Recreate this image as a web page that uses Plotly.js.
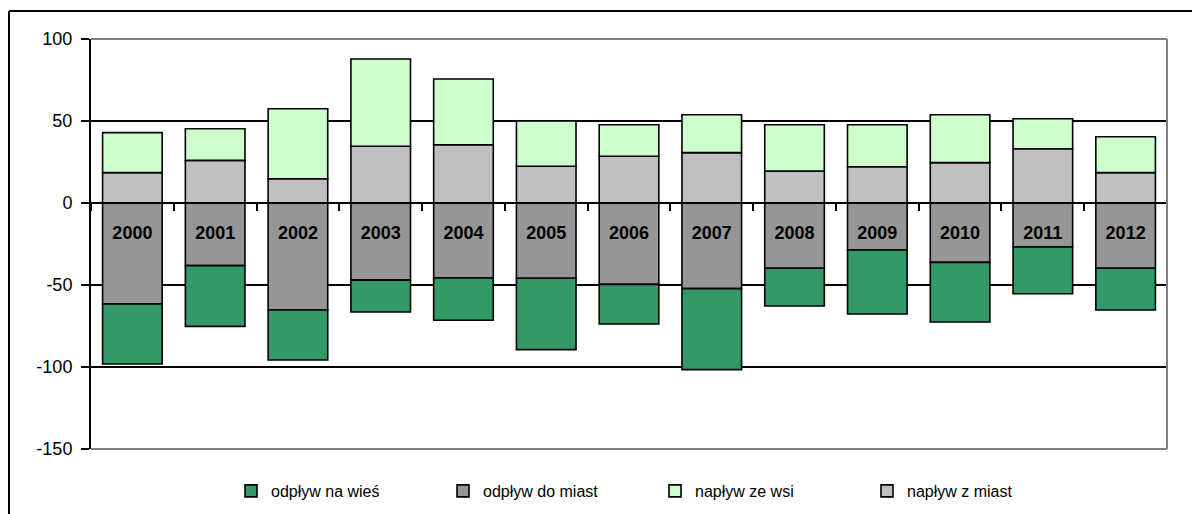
<!DOCTYPE html>
<html>
<head>
<meta charset="utf-8">
<script src="https://cdn.plot.ly/plotly-3.0.1.min.js"></script>
<style>html,body{margin:0;padding:0;background:#fff;}#chart{width:1192px;height:514px;}</style>
</head>
<body>
<div id="chart"></div>
<script>
var years = ['2000','2001','2002','2003','2004','2005','2006','2007','2008','2009','2010','2011','2012'];
var naplywZMiast = [18.5, 26.0, 14.8, 34.6, 35.5, 22.4, 28.5, 30.7, 19.5, 22.1, 24.6, 33.1, 18.5];
var naplywZeWsi = [24.4, 19.3, 42.7, 53.2, 40.1, 27.6, 19.2, 23.1, 28.2, 25.6, 29.2, 18.3, 21.9];
var odplywDoMiast = [-61.6, -38.2, -65.2, -47.0, -45.7, -45.9, -49.6, -52.2, -39.8, -28.7, -36.2, -26.8, -39.8];
var odplywNaWies = [-36.6, -37.0, -30.5, -19.5, -25.8, -43.5, -24.2, -49.4, -23.0, -39.0, -36.4, -28.5, -25.4];
var seriesNames = ['odpływ na wieś', 'odpływ do miast', 'napływ ze wsi', 'napływ z miast'];
var yTicks = [100, 50, 0, -50, -100, -150];

var FONT = '"Liberation Sans", Arial, sans-serif';
var line = {color: '#000', width: 1.6};

function bar(name, vals, color, rank) {
  return {type: 'bar', x: years, y: vals, name: name, legendrank: rank,
    marker: {color: color, line: line}, hoverinfo: 'none'};
}

var data = [
  bar(seriesNames[1], odplywDoMiast, '#969696', 2),
  bar(seriesNames[0], odplywNaWies, '#339966', 1),
  bar(seriesNames[3], naplywZMiast, '#C0C0C0', 4),
  bar(seriesNames[2], naplywZeWsi, '#CCFFCC', 3)
];

var L = 91, R = 25, T = 39, B = 65, W = 1192, H = 514;
var pw = W - L - R, ph = H - T - B;
function px(x){ return (x - L) / pw; }
function py(y){ return (H - B - y) / ph; }
var gray = {color: '#808080', width: 2};

var layout = {
  width: W, height: H,
  margin: {l: L, r: R, t: T, b: B, pad: 0, autoexpand: false},
  paper_bgcolor: '#fff', plot_bgcolor: '#fff',
  barmode: 'relative', bargap: 0.28,
  font: {family: FONT, size: 18, color: '#000'},
  showlegend: true,
  legend: {orientation: 'h', x: px(231), xanchor: 'left', y: py(474), yanchor: 'top',
    font: {family: FONT, size: 16, color: '#000'}, traceorder: 'normal',
    entrywidth: 167, entrywidthmode: 'pixels', bgcolor: 'rgba(0,0,0,0)'},
  xaxis: {type: 'category', anchor: 'free', position: 0.6,
    showline: true, linecolor: '#000', linewidth: 2,
    ticks: 'outside', tickson: 'boundaries', ticklen: 7, tickwidth: 2, tickcolor: '#000',
    showgrid: false, zeroline: false, ticklabelstandoff: 13,
    tickfont: {family: FONT, size: 18, color: '#000', weight: 'bold'}},
  yaxis: {range: [-150, 100], tickvals: yTicks, ticktext: yTicks.map(String),
    showline: true, linecolor: '#000', linewidth: 2,
    ticks: 'outside', ticklen: 8, tickwidth: 2, tickcolor: '#000',
    showgrid: true, gridcolor: '#000', gridwidth: 1.5, zeroline: false,
    ticklabelstandoff: 5,
    tickfont: {family: FONT, size: 18, color: '#000'}},
  shapes: [
    {type: 'line', xref: 'paper', yref: 'paper', x0: 0, x1: 1, y0: 1, y1: 1, line: gray, layer: 'above'},
    {type: 'line', xref: 'paper', yref: 'paper', x0: 0, x1: 1, y0: 0, y1: 0, line: gray, layer: 'above'},
    {type: 'line', xref: 'paper', yref: 'paper', x0: 1, x1: 1, y0: 0, y1: 1, line: gray, layer: 'above'},
    {type: 'line', xref: 'paper', yref: 'paper', x0: px(9), x1: px(1200), y0: py(11), y1: py(11), line: {color: '#000', width: 2}},
    {type: 'line', xref: 'paper', yref: 'paper', x0: px(9), x1: px(9), y0: py(11), y1: py(520), line: {color: '#000', width: 2}}
  ]
};

Plotly.newPlot('chart', data, layout, {staticPlot: true, displayModeBar: false});
</script>
</body>
</html>
